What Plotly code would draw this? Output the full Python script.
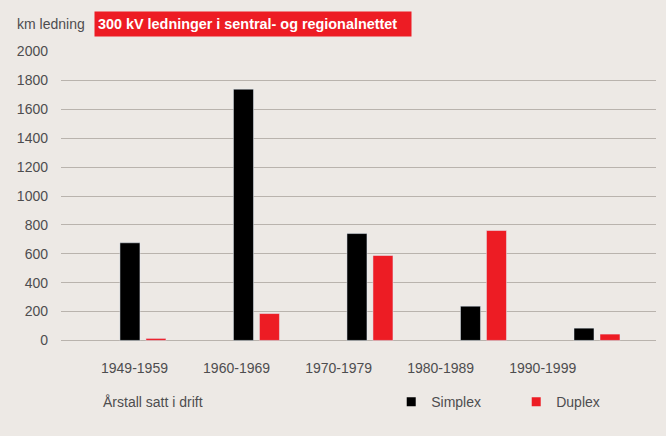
import plotly.graph_objects as go

periods = ["1949-1959", "1960-1969", "1970-1979", "1980-1989", "1990-1999"]
simplex = [676, 1740, 740, 237, 85]
duplex = [14, 186, 588, 761, 44]
y_ticks = list(range(0, 2001, 200))

BG = "#EDE9E5"
GRID = "#B9B3AD"
RED = "#ED1C24"
TXT = "#4D4D4F"
FONT = "Liberation Sans, Arial, sans-serif"

idx = list(range(len(periods)))

fig = go.Figure()
fig.add_trace(go.Bar(x=idx, y=simplex, name="Simplex", marker_color="#000000",
                     showlegend=False, xaxis="x", yaxis="y"))
fig.add_trace(go.Bar(x=idx, y=duplex, name="Duplex", marker_color=RED,
                     showlegend=False, xaxis="x", yaxis="y"))
# legend proxies (small squares)
fig.add_trace(go.Scatter(x=[None], y=[None], mode="markers", name="Simplex",
                         marker=dict(symbol="square", size=9, color="#000000")))
fig.add_trace(go.Scatter(x=[None], y=[None], mode="markers", name="Duplex",
                         marker=dict(symbol="square", size=9, color=RED)))
# invisible trace to carry category labels on second x axis
fig.add_trace(go.Scatter(x=periods, y=[None]*len(periods), mode="markers",
                         showlegend=False, xaxis="x2", yaxis="y", hoverinfo="skip"))

fig.update_layout(
    width=666, height=436,
    paper_bgcolor=BG, plot_bgcolor=BG,
    margin=dict(l=61, r=10, t=51, b=95, autoexpand=False),
    barmode="group", bargap=0.542, bargroupgap=0.23,
    font=dict(family=FONT, size=14, color=TXT),
    xaxis=dict(range=[-0.722, 4.52], showgrid=False, zeroline=False,
               showticklabels=False, ticks="", automargin=False),
    xaxis2=dict(overlaying="x", side="bottom", type="category",
                range=[-0.72, 5.11], showgrid=False, zeroline=False,
                ticks="", ticklabelstandoff=17, automargin=False,
                tickfont=dict(family=FONT, size=14, color=TXT)),
    yaxis=dict(range=[-4, 2004], tickvals=y_ticks, showgrid=True, gridcolor=GRID,
               gridwidth=1, zeroline=True, zerolinecolor=GRID, zerolinewidth=1,
               ticks="", ticklabelstandoff=12, automargin=False,
               tickfont=dict(family=FONT, size=14, color=TXT)),
    legend=dict(orientation="h", x=0.555, y=-0.211, xanchor="left", yanchor="middle",
                bgcolor="rgba(0,0,0,0)", entrywidth=80, entrywidthmode="pixels",
                font=dict(family=FONT, size=14, color=TXT),
                itemclick=False),
    showlegend=True,
)

fig.add_annotation(xref="paper", yref="paper", x=(15-61)/595, y=(340-24)/289,
                   xanchor="left", yanchor="middle", showarrow=False,
                   text="km ledning", font=dict(family=FONT, size=14, color=TXT))
fig.add_annotation(xref="paper", yref="paper", x=(94-61)/595, y=(340-24)/289,
                   xanchor="left", yanchor="middle", showarrow=False,
                   text="<b>300 kV ledninger i sentral- og regionalnettet</b>",
                   align="left", width=310, height=18, borderpad=3,
                   bgcolor=RED, font=dict(family=FONT, size=14.4, color="white"))
fig.add_annotation(xref="paper", yref="paper", x=(101-61)/595, y=(340-401)/289,
                   xanchor="left", yanchor="middle", showarrow=False,
                   text="Årstall satt i drift", font=dict(family=FONT, size=14, color=TXT))

fig.write_html("out.html", config={"displayModeBar": False},
               post_script="document.body.style.margin='0';document.body.style.background='#EDE9E5';")
